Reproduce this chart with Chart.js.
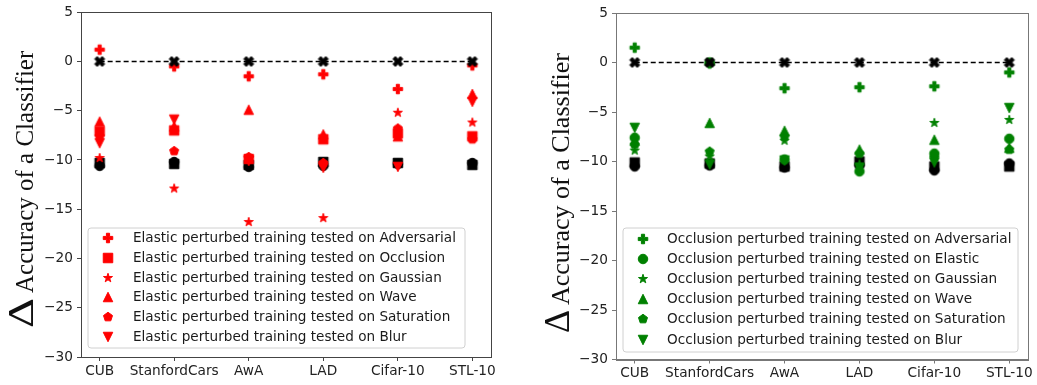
<!DOCTYPE html>
<html><head><meta charset="utf-8">
<script src="https://cdn.jsdelivr.net/npm/chart.js@4.4.1/dist/chart.umd.min.js"></script>
<style>
html,body{margin:0;padding:0;background:#fff;}
#wrap{position:relative;width:1037px;height:385px;overflow:hidden;background:#fff;}
#c1{position:absolute;left:0;top:0;}
#c2{position:absolute;left:518px;top:0;}
</style></head><body>
<div id="wrap"><canvas id="c1" width="518" height="385"></canvas><canvas id="c2" width="519" height="385"></canvas></div>
<script>
// ---------------- data ----------------
const categories = ['CUB', 'StanfordCars', 'AwA', 'LAD', 'Cifar-10', 'STL-10'];
const yTicks = [5, 0, -5, -10, -15, -20, -25, -30];
const yAxisTitle = 'Accuracy of a Classifier';
const deltaSymbol = 'Δ';

const baselineZero = [0, 0, 0, 0, 0, 0];

// Left panel: Elastic perturbed training
const elasticLabels = [
  'Elastic perturbed training tested on Adversarial',
  'Elastic perturbed training tested on Occlusion',
  'Elastic perturbed training tested on Gaussian',
  'Elastic perturbed training tested on Wave',
  'Elastic perturbed training tested on Saturation',
  'Elastic perturbed training tested on Blur'
];
const elasticAdversarial = [1.2, -0.5, -1.5, -1.3, -2.8, -0.4];
const elasticOcclusion   = [-7.1, -7.0, -9.9, -7.9, -7.3, -7.6];
const elasticGaussian    = [-9.8, -12.9, -16.3, -15.9, -5.2, -6.2];
const elasticWave        = [-6.1, -6.6, -4.9, -7.4, -7.6, -3.3];
const elasticSaturation  = [-7.6, -9.1, -9.7, -10.3, -6.8, -7.9];
const elasticBlur        = [-8.3, -5.9, -10.1, -10.8, -10.7, -4.1];
const elasticBlackA      = [-10.3, -10.4, -10.5, -10.2, -10.3, -10.5];
const elasticBlackB      = [-10.6, -10.2, -10.7, -10.6, -10.4, -10.3];

// Right panel: Occlusion perturbed training
const occlusionLabels = [
  'Occlusion perturbed training tested on Adversarial',
  'Occlusion perturbed training tested on Elastic',
  'Occlusion perturbed training tested on Gaussian',
  'Occlusion perturbed training tested on Wave',
  'Occlusion perturbed training tested on Saturation',
  'Occlusion perturbed training tested on Blur'
];
const occlusionAdversarial = [1.5, -0.1, -2.6, -2.5, -2.4, -1.0];
const occlusionElastic     = [-7.6, 0.0, -9.8, -11.0, -9.2, -7.7];
const occlusionGaussian    = [-8.9, -9.5, -7.9, -10.3, -6.1, -5.8];
const occlusionWave        = [-7.9, -6.1, -6.9, -8.8, -7.8, -8.6];
const occlusionSaturation  = [-8.3, -9.0, -7.5, -9.2, -9.6, -8.8];
const occlusionBlur        = [-6.6, -10.3, -9.9, -10.7, -10.1, -4.6];
const occlusionBlackA      = [-10.1, -10.2, -10.5, -10.0, -10.5, -10.5];
const occlusionBlackB      = [-10.5, -10.4, -10.6, -10.4, -10.9, -10.2];

// ---------------- markers ----------------
function makeMarker(shape, color, size) {
  const dim = 16;
  const c = document.createElement('canvas');
  c.width = dim; c.height = dim;
  const ctx = c.getContext('2d');
  ctx.translate(dim / 2, dim / 2);
  const r = size / 2;
  ctx.beginPath();
  const poly = (pts, k) => { pts.forEach((p, i) => { const X = p[0] * k, Y = p[1] * k; if (i === 0) ctx.moveTo(X, Y); else ctx.lineTo(X, Y); }); ctx.closePath(); };
  if (shape === 'plus') {
    poly([[-1,-3],[1,-3],[1,-1],[3,-1],[3,1],[1,1],[1,3],[-1,3],[-1,1],[-3,1],[-3,-1],[-1,-1]], size / 6);
  } else if (shape === 'X') {
    poly([[-1,-2],[0,-1],[1,-2],[2,-1],[1,0],[2,1],[1,2],[0,1],[-1,2],[-2,1],[-1,0],[-2,-1]], size / 4);
  } else if (shape === 'square') {
    ctx.rect(-r, -r, size, size);
  } else if (shape === 'circle') {
    ctx.arc(0, 0, r, 0, Math.PI * 2);
  } else if (shape === 'triUp') {
    poly([[0,-1],[-1,1],[1,1]], r);
  } else if (shape === 'triDown') {
    poly([[0,1],[-1,-1],[1,-1]], r);
  } else if (shape === 'pentagon') {
    const pts = [];
    for (let i = 0; i < 5; i++) { const a = -Math.PI / 2 + i * 2 * Math.PI / 5; pts.push([Math.cos(a), Math.sin(a)]); }
    poly(pts, r);
  } else if (shape === 'star') {
    const pts = [];
    for (let i = 0; i < 10; i++) { const a = -Math.PI / 2 + i * Math.PI / 5; const rr = i % 2 === 0 ? 1 : 0.381966; pts.push([Math.cos(a) * rr, Math.sin(a) * rr]); }
    poly(pts, r);
  }
  ctx.fillStyle = color; ctx.strokeStyle = color; ctx.lineWidth = 1; ctx.lineJoin = 'miter';
  ctx.fill(); ctx.stroke();
  return c;
}

const RED = '#ff0000', GREEN = '#008000', BLACK = '#000000';
const MS = 9.5;
const shapes = ['plus', 'square', 'star', 'triUp', 'pentagon', 'triDown'];
const shapesRight = ['plus', 'circle', 'star', 'triUp', 'pentagon', 'triDown'];

function pts(arr) { return arr.map((v, i) => ({ x: i, y: v })); }

function buildDatasets(labels, series, color, shapeList, blackA, blackB) {
  const ds = [];
  ds.push({ label: 'baseline', data: pts(baselineZero), showLine: true, borderColor: '#000', borderWidth: 1.5,
    borderDash: [5, 3], pointStyle: makeMarker('X', BLACK, 10), pointRadius: 5, order: 0 });
  series.forEach((s, i) => {
    ds.push({ label: labels[i], data: pts(s), showLine: false, pointStyle: makeMarker(shapeList[i], color, MS),
      pointRadius: 5, order: 1, inLegend: true });
  });
  ds.push({ label: 'blackA', data: pts(blackA), showLine: false, pointStyle: makeMarker('square', BLACK, MS), pointRadius: 5, order: 2 });
  ds.push({ label: 'blackB', data: pts(blackB), showLine: false, pointStyle: makeMarker('circle', BLACK, MS), pointRadius: 5, order: 2 });
  return ds;
}

// ---------------- plugins ----------------
const framePlugin = {
  id: 'frame',
  afterDraw(chart) {
    const o = chart.options.plugins.frame; const ca = chart.chartArea; const ctx = chart.ctx;
    ctx.save(); ctx.strokeStyle = o.color; ctx.lineWidth = 1;
    ctx.strokeRect(Math.round(ca.left) + 0.5, Math.round(ca.top) + 0.5, Math.round(ca.right - ca.left), Math.round(ca.bottom - ca.top));
    ctx.restore();
  }
};

const boxLegendPlugin = {
  id: 'boxLegend',
  afterDraw(chart) {
    const o = chart.options.plugins.boxLegend; const ctx = chart.ctx; const ca = chart.chartArea;
    const x = ca.left + o.dx, y = o.top, w = o.width, h = o.height, rad = 3;
    ctx.save();
    ctx.beginPath();
    ctx.moveTo(x + rad, y); ctx.lineTo(x + w - rad, y); ctx.quadraticCurveTo(x + w, y, x + w, y + rad);
    ctx.lineTo(x + w, y + h - rad); ctx.quadraticCurveTo(x + w, y + h, x + w - rad, y + h);
    ctx.lineTo(x + rad, y + h); ctx.quadraticCurveTo(x, y + h, x, y + h - rad);
    ctx.lineTo(x, y + rad); ctx.quadraticCurveTo(x, y, x + rad, y); ctx.closePath();
    ctx.fillStyle = 'rgba(255,255,255,0.8)'; ctx.fill();
    ctx.strokeStyle = '#d0d0d0'; ctx.lineWidth = 1; ctx.stroke();
    const items = chart.data.datasets.filter(d => d.inLegend);
    ctx.font = o.fontSize + 'px "DejaVu Sans"'; ctx.textBaseline = 'middle'; ctx.textAlign = 'left';
    items.forEach((d, i) => {
      const cy = y + o.firstRow + i * o.pitch;
      const img = d.pointStyle;
      ctx.drawImage(img, Math.round(x + o.markerX - img.width / 2), Math.round(cy - img.height / 2));
      ctx.fillStyle = '#1a1a1a';
      ctx.fillText(d.label, x + o.textX, cy + 0.5);
    });
    ctx.restore();
  }
};

const yTitlePlugin = {
  id: 'yTitle',
  afterDraw(chart) {
    const o = chart.options.plugins.yTitle; const ctx = chart.ctx;
    ctx.save();
    ctx.translate(o.baseX, o.bottomY);
    ctx.rotate(-Math.PI / 2);
    ctx.fillStyle = '#111';
    ctx.textBaseline = 'alphabetic'; ctx.textAlign = 'left';
    ctx.font = o.deltaSize + 'px "Liberation Serif"';
    const dw = ctx.measureText(deltaSymbol).width;
    ctx.save(); ctx.scale(o.deltaWidth / dw, 1); ctx.fillText(deltaSymbol, 0, 0); ctx.restore();
    ctx.font = o.fontSize + 'px "Liberation Serif"';
    ctx.fillText(yAxisTitle, o.deltaWidth + o.gap, 0);
    ctx.restore();
  }
};

// ---------------- charts ----------------
function makeChart(canvas, datasets, p) {
  const tickFont = { family: 'DejaVu Sans', size: 13.7 };
  return new Chart(canvas, {
    type: 'scatter',
    data: { datasets },
    plugins: [framePlugin, boxLegendPlugin, yTitlePlugin],
    options: {
      responsive: false, animation: false, events: [],
      layout: { padding: p.padding },
      plugins: {
        legend: { display: false }, tooltip: { enabled: false },
        frame: { color: p.spine },
        boxLegend: p.legend,
        yTitle: p.title
      },
      scales: {
        x: {
          type: 'linear', min: -0.25, max: 5.25,
          afterBuildTicks: s => { s.ticks = categories.map((c, i) => ({ value: i })); },
          ticks: { callback: v => categories[v] !== undefined ? categories[v] : '', font: tickFont, color: '#222', padding: 2, maxRotation: 0, autoSkip: false },
          grid: { display: true, drawOnChartArea: false, drawTicks: true, tickLength: 4, color: p.spine },
          border: { display: true, color: p.spine, width: 1 },
          afterFit: s => { s.height = p.xH; }
        },
        y: {
          type: 'linear', min: -30, max: 5,
          afterBuildTicks: s => { s.ticks = yTicks.map(v => ({ value: v })); },
          ticks: { callback: v => v < 0 ? '\u2212' + Math.abs(v) : String(v), font: tickFont, color: '#222', padding: 4 },
          grid: { display: true, drawOnChartArea: false, drawTicks: true, tickLength: 4, color: p.spine },
          border: { display: true, color: p.spine, width: 1 },
          afterFit: s => { s.width = p.yW; }
        }
      }
    }
  });
}

makeChart(document.getElementById('c1'),
  buildDatasets(elasticLabels,
    [elasticAdversarial, elasticOcclusion, elasticGaussian, elasticWave, elasticSaturation, elasticBlur],
    RED, shapes, elasticBlackA, elasticBlackB),
  {
    padding: { left: 0, top: 10, right: 27, bottom: 0 }, yW: 81, xH: 28, spine: '#444',
    legend: { dx: 7, top: 228, width: 377, height: 120, markerX: 20, textX: 45, firstRow: 10, pitch: 19.8, fontSize: 13.6 },
    title: { baseX: 33, bottomY: 328, deltaSize: 36, deltaWidth: 30, gap: 5, fontSize: 25 }
  });

makeChart(document.getElementById('c2'),
  buildDatasets(occlusionLabels,
    [occlusionAdversarial, occlusionElastic, occlusionGaussian, occlusionWave, occlusionSaturation, occlusionBlur],
    GREEN, shapesRight, occlusionBlackA, occlusionBlackB),
  {
    padding: { left: 0, top: 13, right: 9, bottom: 0 }, yW: 98, xH: 25.5, spine: '#777',
    legend: { dx: 7, top: 228, width: 395, height: 124, markerX: 20, textX: 44, firstRow: 11, pitch: 20.1, fontSize: 13.6 },
    title: { baseX: 51, bottomY: 333, deltaSize: 36, deltaWidth: 23, gap: 5, fontSize: 26 }
  });
</script>
</body></html>
